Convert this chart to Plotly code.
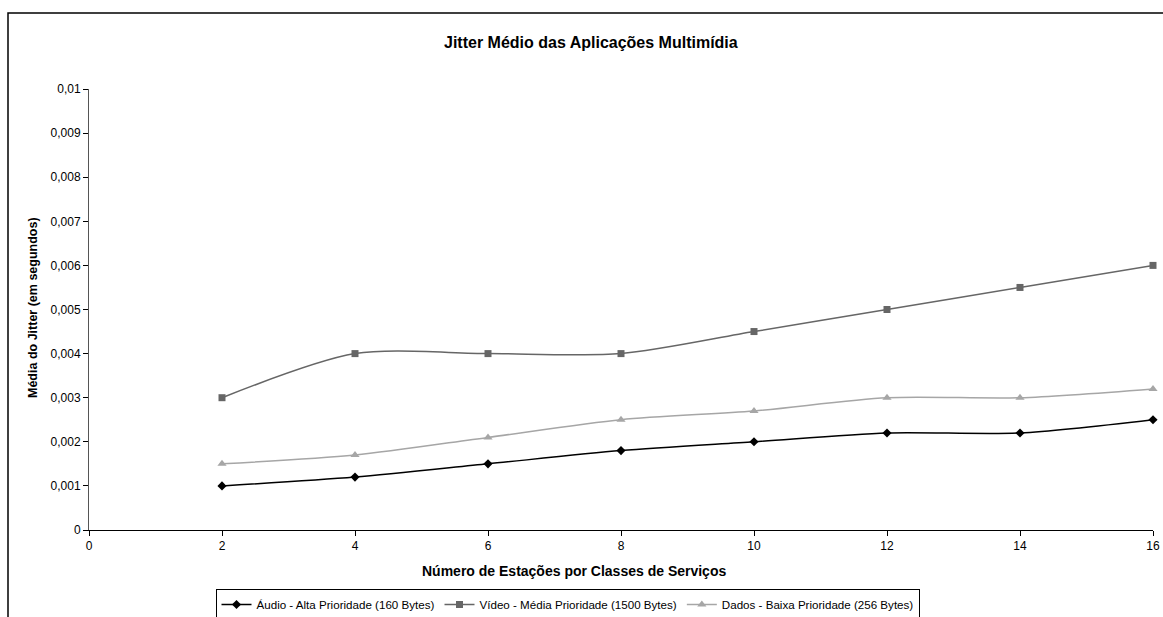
import plotly.graph_objects as go

x_vals = [2, 4, 6, 8, 10, 12, 14, 16]
audio = [0.001, 0.0012, 0.0015, 0.0018, 0.002, 0.0022, 0.0022, 0.0025]
video = [0.003, 0.004, 0.004, 0.004, 0.0045, 0.005, 0.0055, 0.006]
dados = [0.0015, 0.0017, 0.0021, 0.0025, 0.0027, 0.003, 0.003, 0.0032]
series_names = ["Áudio - Alta Prioridade (160 Bytes)",
                "Vídeo - Média Prioridade (1500 Bytes)",
                "Dados - Baixa Prioridade (256 Bytes)"]
title_text = "Jitter Médio das Aplicações Multimídia"
x_title = "Número de Estações por Classes de Serviços"
y_title = "Média do Jitter (em segundos)"

FONT = "Liberation Sans, Arial, sans-serif"
W, H = 1163, 617
L, R, T, B = 89, 10, 89, 87
pw = W - L - R
ph = H - T - B

def px_x(p):
    return (p - L) / pw

def px_y(p):
    return (H - B - p) / ph

fig = go.Figure()
styles = [
    dict(color="#000000", symbol="diamond", size=7),
    dict(color="#666666", symbol="square", size=7),
    dict(color="#A6A6A6", symbol="triangle-up", size=8),
]
for name, ys, st in zip(series_names, [audio, video, dados], styles):
    fig.add_trace(go.Scatter(
        x=x_vals, y=ys, name=name, mode="lines+markers",
        line=dict(color=st["color"], width=1.5, shape="spline", smoothing=0.8),
        marker=dict(symbol=st["symbol"], size=st["size"], color=st["color"]),
        cliponaxis=False,
    ))

fig.update_layout(
    width=W, height=H,
    margin=dict(l=L, r=R, t=T, b=B, autoexpand=False),
    paper_bgcolor="white", plot_bgcolor="white",
    separators=",.",
    font=dict(family=FONT, size=12, color="#000000"),
    showlegend=True,
    legend=dict(
        orientation="h", x=px_x(567.5), xanchor="center",
        y=px_y(589), yanchor="top",
        bordercolor="#000000", borderwidth=1, bgcolor="white",
        font=dict(family=FONT, size=11.6),
        itemwidth=30, tracegroupgap=0,
    ),
    xaxis=dict(
        range=[0, 16], dtick=2, tick0=0, showgrid=False, zeroline=False,
        showline=True, linecolor="#000000", linewidth=1,
        ticks="outside", ticklen=5, tickcolor="#000000",
        tickfont=dict(family=FONT, size=12),
    ),
    yaxis=dict(
        range=[0, 0.01], dtick=0.001, tick0=0, showgrid=False, zeroline=False,
        showline=True, linecolor="#555555", linewidth=1,
        ticks="outside", ticklen=5, tickcolor="#000000",
        tickfont=dict(family=FONT, size=12),
    ),
    annotations=[
        dict(text="<b>" + title_text + "</b>", xref="paper", yref="paper",
             x=px_x(591), y=px_y(42), xanchor="center", yanchor="middle",
             showarrow=False, font=dict(family=FONT, size=16)),
        dict(text="<b>" + x_title + "</b>", xref="paper", yref="paper",
             x=px_x(574), y=px_y(571), xanchor="center", yanchor="middle",
             showarrow=False, font=dict(family=FONT, size=14)),
        dict(text="<b>" + y_title + "</b>", xref="paper", yref="paper",
             x=px_x(33), y=px_y(308), xanchor="center", yanchor="middle",
             textangle=-90, showarrow=False, font=dict(family=FONT, size=12.5)),
    ],
    shapes=[
        dict(type="rect", xref="paper", yref="paper",
             x0=px_x(8), x1=px_x(1175), y0=px_y(640), y1=px_y(13),
             line=dict(color="#000000", width=1.5), layer="below"),
    ],
)

fig.write_html("out.html", config={"displayModeBar": False},
               post_script="document.body.style.margin='0';document.body.style.overflow='hidden';")
